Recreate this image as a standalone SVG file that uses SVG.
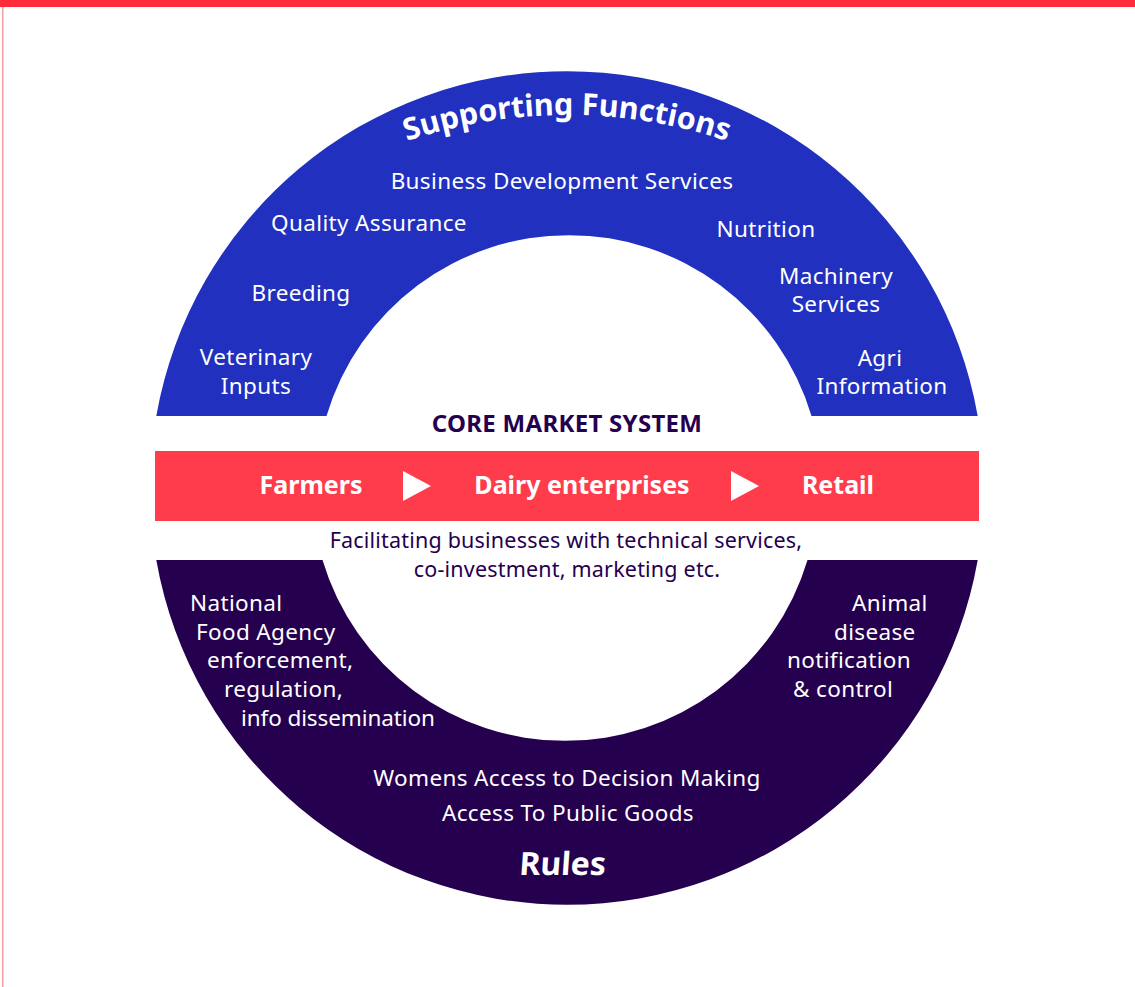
<svg xmlns="http://www.w3.org/2000/svg" width="1135" height="987" viewBox="0 0 1135 987">
<style>
text{font-family:"Noto Sans","Open Sans",sans-serif}
.w{fill:#ffffff;font-size:22.5px;letter-spacing:0.35px}
.wb{fill:#ffffff;font-weight:700}
.d{fill:#25004f;font-size:21.5px;letter-spacing:0.2px}
.c{text-anchor:middle}
</style>
<defs>
<path id="arcText" d="M 62 620 A 505 505 0 0 1 1072 620"/>
</defs>
<rect x="0" y="0" width="1135" height="987" fill="#ffffff"/>
<rect x="0" y="0" width="1135" height="7" fill="#ff2b3b"/>
<rect x="2" y="7" width="1.5" height="980" fill="#f5a0a0"/>

<g id="supporting-functions">
<path d="M 156.3 416 A 417 417 0 0 1 977.7 416 L 811.5 416 A 253 253 0 0 0 326.5 416 Z" fill="#2130be"/>
<text class="wb" font-size="30.5"><textPath href="#arcText" startOffset="50%" text-anchor="middle">Supporting Functions</textPath></text>
<text class="w c" x="562" y="189">Business Development Services</text>
<text class="w c" x="369" y="231">Quality Assurance</text>
<text class="w c" x="301" y="301">Breeding</text>
<text class="w c" x="256" y="365">Veterinary</text>
<text class="w c" x="256" y="394">Inputs</text>
<text class="w c" x="766" y="237">Nutrition</text>
<text class="w c" x="836" y="284">Machinery</text>
<text class="w c" x="836" y="312">Services</text>
<text class="w c" x="880" y="366">Agri</text>
<text class="w c" x="882" y="394">Information</text>
</g>

<g id="core-market-system">
<text class="c" x="567" y="432" fill="#25004f" font-size="24" font-weight="700" letter-spacing="0.3">CORE MARKET SYSTEM</text>
<rect x="155" y="451" width="824" height="70" fill="#fe3c4b"/>
</g>

<g id="farmers"><text class="wb c" x="311" y="494" font-size="25">Farmers</text></g>
<g id="dairy-enterprises"><text class="wb c" x="582" y="494" font-size="25">Dairy enterprises</text></g>
<g id="retail"><text class="wb c" x="838" y="494" font-size="25">Retail</text></g>

<g id="connectors" fill="#ffffff">
<polygon points="403,471 431,486 403,501"/>
<polygon points="731,471 759,486 731,501"/>
</g>

<g id="facilitating">
<text class="d c" x="566" y="548">Facilitating businesses with technical services,</text>
<text class="d c" x="567" y="577">co-investment, marketing etc.</text>
</g>

<g id="rules">
<path d="M 156.3 560 A 417 417 0 0 0 977.7 560 L 807.5 560 A 253 253 0 0 1 322.5 560 Z" fill="#25004f"/>
<text class="w" x="190" y="611">National</text>
<text class="w" x="196" y="640">Food Agency</text>
<text class="w" x="207" y="668">enforcement,</text>
<text class="w" x="224" y="697">regulation,</text>
<text class="w" x="241" y="726" style="letter-spacing:-0.1px">info dissemination</text>
<text class="w" x="852" y="611">Animal</text>
<text class="w" x="834" y="640">disease</text>
<text class="w" x="787" y="668">notification</text>
<text class="w" x="793" y="697">&amp; control</text>
<text class="w c" x="567" y="786">Womens Access to Decision Making</text>
<text class="w c" x="568" y="821">Access To Public Goods</text>
<text class="wb c" transform="translate(562,875) skewX(-4)" x="0" y="0" font-size="32">Rules</text>
</g>
</svg>
